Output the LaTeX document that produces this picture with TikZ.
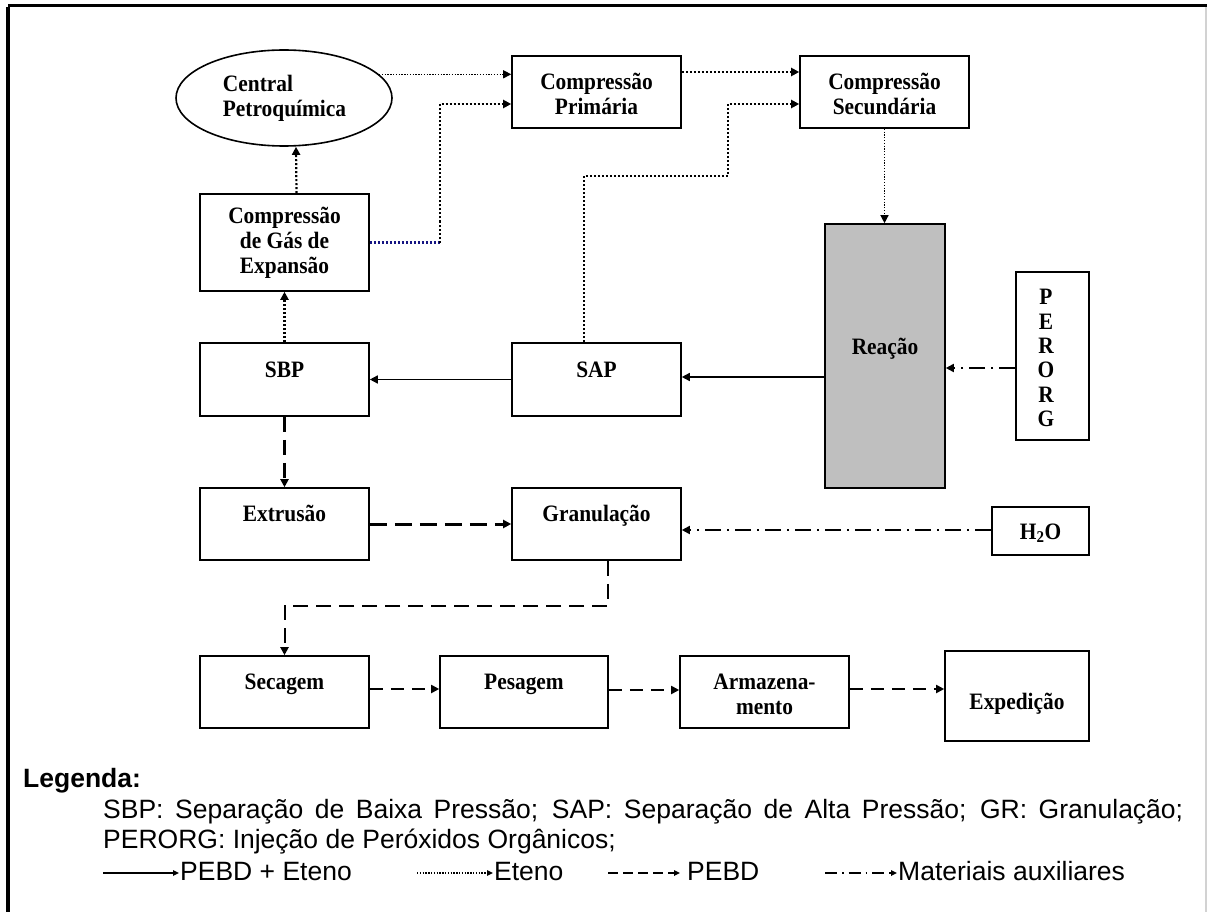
\documentclass[tikz,border=0pt]{standalone}
\usepackage{fontspec}
\setmainfont{Liberation Serif}
\setsansfont{Liberation Sans}
\newfontfamily\boxfont[FakeStretch=0.91]{Liberation Serif}
\usetikzlibrary{arrows.meta,shapes.geometric}

\begin{document}
\begin{tikzpicture}[x=1pt,y=-1pt,
  box/.style={draw, line width=1.6pt, inner sep=0pt},
  lbl/.style={font=\boxfont\fontsize{23.5}{25}\selectfont\bfseries, align=center, inner sep=0pt},
  one/.style={lbl, anchor=base},
  legtxt/.style={font=\sffamily\fontsize{26.5}{31}\selectfont, inner sep=0pt, anchor=base west},
  tip/.style={-{Triangle[length=8pt,width=8pt]}},
  smalltip/.style={-{Triangle[length=6pt,width=5.5pt]}},
  solidflow/.style={tip, line width=1.5pt},
  eththick/.style={tip, line width=2.2pt, dash pattern=on 2pt off 2pt},
  eththin/.style={tip, line width=1.3pt, dash pattern=on 1.3pt off 1.5pt},
  pebdthick/.style={tip, line width=3pt, dash pattern=on 17pt off 8pt},
  pebdmid/.style={tip, line width=2.4pt, dash pattern=on 15pt off 8pt},
  pebdthin/.style={tip, line width=1.8pt, dash pattern=on 13pt off 8pt},
  aux/.style={tip, line width=1.8pt, dash pattern=on 16pt off 6pt on 2pt off 6pt},
]
\useasboundingbox (0,0) rectangle (1207,912);
\fill[white] (0,0) rectangle (1207,912);

% outer frame
\draw[line width=3pt] (8,5.5) -- (1207,5.5);
\draw[line width=3.5pt] (8,7) -- (8,912);
\draw[gray!35, line width=1.2pt] (1206,7) -- (1206,912);

% process blocks
\node[box, ellipse, minimum width=216pt, minimum height=96pt] (ell) at (284,98) {};
\node[lbl, align=left] (ellt) at (284.5,98) {Central\\Petroquímica};

\node[box, minimum width=169pt, minimum height=97pt] (cge) at (284.5,242.5) {};
\node[lbl] (cget) at (284.5,243) {Compressão\\de Gás de\\Expansão};

\node[box, minimum width=169pt, minimum height=72pt] (prim) at (596.5,92) {};
\node[lbl] (primt) at (596.5,94) {Compressão\\Primária};

\node[box, minimum width=169pt, minimum height=72pt] (sec) at (884.5,92) {};
\node[lbl] (sect) at (884.5,94) {Compressão\\Secundária};

\node[box, fill={rgb,255:red,191;green,191;blue,191}, minimum width=120pt, minimum height=264pt] (reac) at (885,356) {};
\node[one] (react) at (885,354) {Reação};

\node[box, minimum width=73pt, minimum height=168pt] (per) at (1052.5,356) {};
\node[lbl, font=\boxfont\fontsize{23.5}{24.3}\selectfont\bfseries] (pert) at (1046,358) {P\\E\\R\\O\\R\\G};

\node[box, minimum width=169pt, minimum height=73pt] (sbp) at (284.5,379.5) {};
\node[one] (sbpt) at (284.5,377) {SBP};

\node[box, minimum width=169pt, minimum height=73pt] (sap) at (596.5,379.5) {};
\node[one] (sapt) at (596.5,377) {SAP};

\node[box, minimum width=169pt, minimum height=72pt] (ext) at (284.5,524) {};
\node[one] (extt) at (284.5,521) {Extrusão};

\node[box, minimum width=169pt, minimum height=72pt] (gran) at (596.5,524) {};
\node[one] (grant) at (596.5,521) {Granulação};

\node[box, minimum width=97pt, minimum height=48pt] (h2o) at (1040.5,531) {};
\node[one] (h2ot) at (1040.5,539) {H\textsubscript{2}O};

\node[box, minimum width=169pt, minimum height=72pt] (secg) at (284.5,692) {};
\node[one] (secgt) at (284.5,689) {Secagem};

\node[box, minimum width=168pt, minimum height=72pt] (pes) at (524,692) {};
\node[one] (pest) at (524,689) {Pesagem};

\node[box, minimum width=169pt, minimum height=72pt] (arm) at (764.5,692) {};
\node[lbl] (armt) at (764.5,694) {Armazena-\\mento};

\node[box, minimum width=144pt, minimum height=90pt] (exp) at (1017,696) {};
\node[one] (expt) at (1017,709) {Expedição};

% ethene lines
\draw[eththin] (ell.14) -- (ell.14 -| prim.west);
\draw[eththick] ([xshift=12pt]cge.north) -- ([xshift=12pt]ell.south);
\coordinate (b1) at (440,242.5);
\draw[line width=2.2pt, dash pattern=on 2pt off 2pt, color={rgb,255:red,20;green,20;blue,130}] (cge.east) -- (b1);
\draw[eththick] (b1) |- ([yshift=-12pt]prim.west);
\draw[eththick] ([yshift=20pt]prim.east) -- ([yshift=20pt]sec.west);
\coordinate (b2) at (728,176);
\draw[eththick] ([xshift=-12.5pt]sap.north) |- (b2) |- ([yshift=-12pt]sec.west);
\draw[eththin] (sec.south) -- (sec.south |- reac.north);
\draw[eththick] (sbp.north) -- (cge.south);

% polymer + ethene lines
\coordinate (r1) at ([yshift=-21pt]reac.west);
\draw[solidflow] (r1) -- (r1 -| sap.east);
\draw[solidflow] (sap.west) -- (sbp.east);

% auxiliary materials
\coordinate (p1) at ([yshift=-12pt]per.west);
\draw[aux] (p1) -- (p1 -| reac.east);
\coordinate (w1) at ([yshift=1pt]h2o.west);
\draw[aux] (w1) -- (w1 -| gran.east);

% polymer lines
\draw[pebdmid] (sbp.south) -- (ext.north);
\draw[pebdthick] (ext.east) -- (gran.west);
\draw[pebdmid, line width=2pt] ([xshift=11.5pt]gran.south) -- ++(0,45) -| (secg.north);
\draw[pebdthin] ([yshift=3pt]secg.east) -- ([yshift=3pt]pes.west);
\draw[pebdthin] ([yshift=2pt]pes.east) -- ([yshift=2pt]arm.west);
\coordinate (a1) at ([yshift=3pt]arm.east);
\draw[pebdthin] (a1) -- (a1 -| exp.west);

% legend
\node[legtxt, font=\sffamily\bfseries\fontsize{26.5}{31}\selectfont] (legh) at (23,787) {Legenda:};
\node[legtxt] (leg1) at (103,818) {\makebox[1080pt][s]{SBP: Separação de Baixa Pressão; SAP: Separação de Alta Pressão; GR: Granulação;}};
\node[legtxt] (leg2) at (103,848) {PERORG: Injeção de Peróxidos Orgânicos;};

\node[legtxt] (k1) at (180,880) {PEBD + Eteno};
\coordinate (k1s) at (103,873);
\coordinate (k1e) at (179,873);
\draw[smalltip, line width=1.5pt] (k1s) -- (k1e);

\node[legtxt] (k2) at (494,880) {Eteno};
\coordinate (k2s) at (417,873);
\coordinate (k2e) at (493,873);
\draw[smalltip, line width=1.3pt, dash pattern=on 1.3pt off 1.5pt] (k2s) -- (k2e);

\node[legtxt] (k3) at (687,880) {PEBD};
\coordinate (k3s) at (608,873);
\coordinate (k3e) at (680,873);
\draw[smalltip, line width=1.5pt, dash pattern=on 10pt off 5pt] (k3s) -- (k3e);

\node[legtxt] (k4) at (898,880) {Materiais auxiliares};
\coordinate (k4s) at (825,873);
\coordinate (k4e) at (897,873);
\draw[smalltip, line width=1.5pt, dash pattern=on 12pt off 5pt on 1.5pt off 5pt] (k4s) -- (k4e);
\end{tikzpicture}
\end{document}
